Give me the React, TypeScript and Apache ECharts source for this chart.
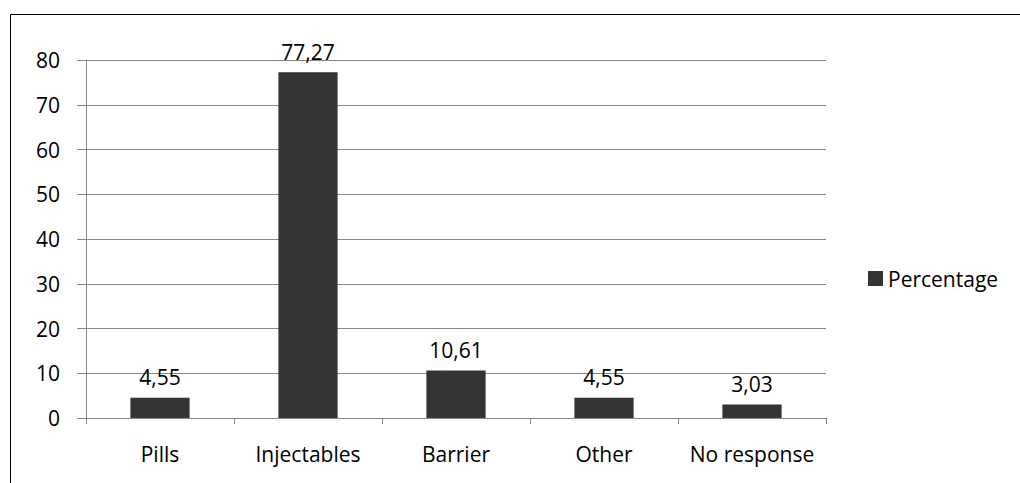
import React, { useEffect, useRef } from "react";
import * as echarts from "echarts";

const categories = ["Pills", "Injectables", "Barrier", "Other", "No response"];
const percentages = [4.55, 77.27, 10.61, 4.55, 3.03];
const seriesName = "Percentage";

const FONT = "'Open Sans', 'Noto Sans', sans-serif";
const FS = 21;

export default function App() {
  const ref = useRef<HTMLDivElement>(null);
  useEffect(() => {
    if (!ref.current) return;
    const chart = echarts.init(ref.current, null, { renderer: "svg" });
    chart.setOption({
      animation: false,
      backgroundColor: "#ffffff",
      textStyle: { fontFamily: FONT },
      graphic: [
        {
          type: "rect",
          shape: { x: 10.5, y: 14.5, width: 1030, height: 500 },
          style: { fill: "none", stroke: "#000000", lineWidth: 1 },
          silent: true,
        },
      ],
      legend: {
        orient: "vertical",
        left: 863,
        top: 263,
        itemWidth: 15,
        itemHeight: 15,
        itemGap: 5,
        icon: "rect",
        textStyle: { fontSize: FS, color: "#000", fontFamily: FONT },
        data: [seriesName],
      },
      grid: { left: 86, right: 194, top: 60, bottom: 65 },
      xAxis: {
        type: "category",
        data: categories,
        axisLine: { lineStyle: { color: "#868686", width: 1 } },
        axisTick: { show: true, length: 6, lineStyle: { color: "#868686" } },
        axisLabel: { interval: 0, fontSize: FS, color: "#000", margin: 25, fontFamily: FONT, hideOverlap: false },
      },
      yAxis: {
        type: "value",
        min: 0,
        max: 80,
        interval: 10,
        axisLine: { show: true, lineStyle: { color: "#868686", width: 1 } },
        axisTick: { show: true, length: 9, lineStyle: { color: "#868686" } },
        axisLabel: { fontSize: FS, color: "#000", margin: 26, fontFamily: FONT },
        splitLine: { lineStyle: { color: "#868686", width: 1 } },
      },
      series: [
        {
          name: seriesName,
          type: "bar",
          data: percentages,
          barWidth: "40%",
          itemStyle: { color: "#333333" },
          label: {
            show: true,
            position: "top",
            distance: 10,
            fontSize: FS,
            color: "#000",
            fontFamily: FONT,
            formatter: (p: any) => Number(p.value).toFixed(2).replace(".", ","),
          },
        },
      ],
    });
    return () => chart.dispose();
  }, []);
  return (
    <div
      ref={ref}
      style={{ position: "fixed", left: 0, top: 0, width: 1020, height: 483 }}
    />
  );
}
